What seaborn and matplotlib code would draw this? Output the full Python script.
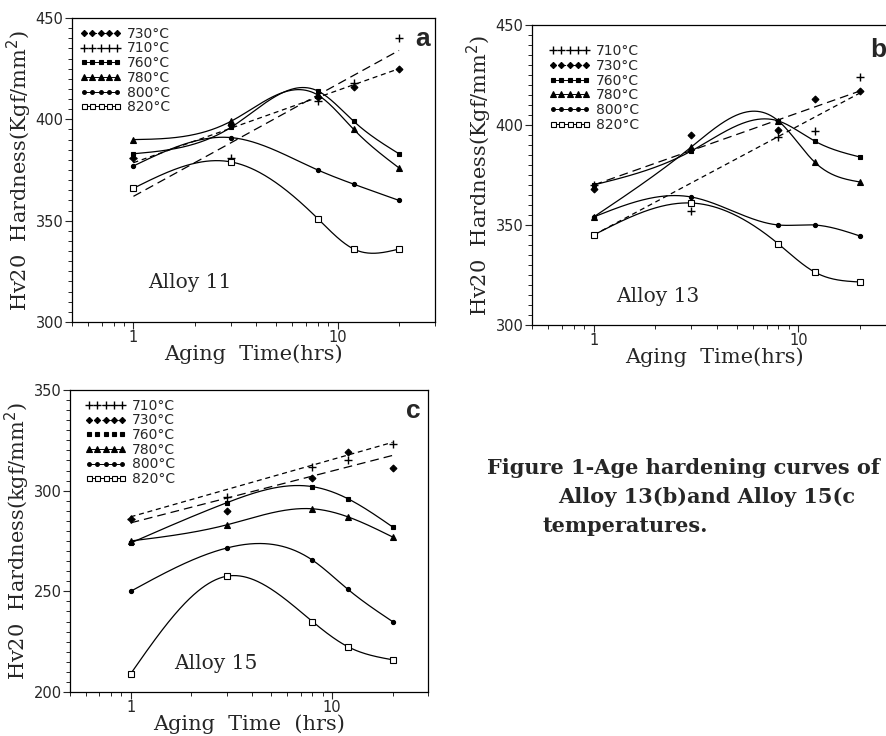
import numpy as np
import pandas as pd
import matplotlib
matplotlib.use("Agg")
import matplotlib.pyplot as plt
import seaborn as sns
from matplotlib.lines import Line2D
from matplotlib.ticker import MultipleLocator, FixedLocator, NullFormatter, FixedFormatter

# ---------------- data ----------------
times = [1, 3, 8, 12, 20]
fit_times = [1, 20]
temps = ["710°C", "730°C", "760°C", "780°C", "800°C", "820°C"]

# Alloy 11 (panel a)
a11_710 = [381, 381, 409, 418, 440]
a11_730 = [381, 397, 411, 416, 425]
a11_760 = [383, 396, 414, 399, 383]
a11_780 = [390, 399, 412, 395, 376]
a11_800 = [377, 391, 375, 368, 360]
a11_820 = [366, 379, 351, 336, 336]
a11_fit710 = [362, 434]
a11_fit730 = [378.6, 425]

# Alloy 13 (panel b)
a13_710 = [370, 357, 394, 397, 424]
a13_730 = [368, 395, 397.5, 413, 417]
a13_760 = [370, 387, 402, 392, 384]
a13_780 = [354, 389, 402, 381.5, 371.5]
a13_800 = [354, 364, 350, 350, 344.5]
a13_820 = [345, 361, 340.5, 326.5, 321.5]
a13_fit710 = [345, 416]
a13_fit730 = [370, 417]

# Alloy 15 (panel c)
a15_710 = [286, 297, 312, 315, 323]
a15_730 = [286, 290, 306.5, 319, 311.5]
a15_760 = [274, 294, 302, 296, 282]
a15_780 = [275, 283, 291, 287, 277]
a15_800 = [250, 271.5, 265.5, 251, 235]
a15_820 = [209, 257.5, 235, 222.5, 216]
a15_fit710 = [287, 324]
a15_fit730 = [284, 317.5]

# ---------------- style ----------------
sns.set_theme(style="ticks")
plt.rcParams["font.family"] = ["DejaVu Sans"]
plt.rcParams["axes.linewidth"] = 0.9
plt.rcParams["xtick.direction"] = "out"
plt.rcParams["ytick.direction"] = "out"

markers = {"710°C": dict(marker="+", ms=6, mfc="black", mew=1.0),
           "730°C": dict(marker="D", ms=3.5, mfc="black", mew=0.8),
           "760°C": dict(marker="s", ms=3, mfc="black", mew=0.8),
           "780°C": dict(marker="^", ms=4.5, mfc="black", mew=0.8),
           "800°C": dict(marker="o", ms=3, mfc="black", mew=0.8),
           "820°C": dict(marker="s", ms=4, mfc="white", mew=0.8)}

SERIF = "DejaVu Serif"


def spline(x, y, n=300):
    """natural cubic spline in log10(x) space, for drawing smooth curves"""
    xs = np.log10(np.asarray(x, float))
    ys = np.asarray(y, float)
    k = len(xs)
    h = np.diff(xs)
    A = np.zeros((k, k)); b = np.zeros(k)
    A[0, 0] = A[-1, -1] = 1
    for i in range(1, k - 1):
        A[i, i - 1] = h[i - 1]; A[i, i] = 2 * (h[i - 1] + h[i]); A[i, i + 1] = h[i]
        b[i] = 6 * ((ys[i + 1] - ys[i]) / h[i] - (ys[i] - ys[i - 1]) / h[i - 1])
    M = np.linalg.solve(A, b)
    xx = np.linspace(xs[0], xs[-1], n)
    j = np.clip(np.searchsorted(xs, xx) - 1, 0, k - 2)
    t0, t1 = xs[j], xs[j + 1]; hh = t1 - t0
    yy = (M[j] * (t1 - xx) ** 3 / (6 * hh) + M[j + 1] * (xx - t0) ** 3 / (6 * hh)
          + (ys[j] / hh - M[j] * hh / 6) * (t1 - xx) + (ys[j + 1] / hh - M[j + 1] * hh / 6) * (xx - t0))
    return 10 ** xx, yy


def panel(ax, series, fits, fit_styles, ylim, letter, letter_xy, alloy, alloy_xy, ylabel, xlabel,
          legend_order, leg_anchor, legend_styles):
    for temp in ["760°C", "780°C", "800°C", "820°C"]:
        sx, sy = spline(times, series[temp])
        sns.lineplot(x=sx, y=sy, ax=ax, color="black", lw=0.9, sort=False,
                     estimator=None, legend=False)
    for temp, vals in fits.items():
        sns.lineplot(x=fit_times, y=vals, ax=ax, color="black", lw=0.9, legend=False,
                     estimator=None, dashes=False, linestyle=fit_styles[temp])
    for temp in temps:
        m = markers[temp]
        ax.plot(times, series[temp], ls="none", marker=m["marker"], ms=m["ms"],
                mfc=m["mfc"], mec="black", mew=m["mew"], color="black", zorder=5)
    ax.set_xscale("log")
    ax.set_xlim(0.5, 30)
    ax.set_ylim(*ylim)
    ax.xaxis.set_major_locator(FixedLocator([1, 10]))
    ax.xaxis.set_major_formatter(FixedFormatter(["1", "10"]))
    ax.xaxis.set_minor_locator(FixedLocator([0.5, 0.6, 0.7, 0.8, 0.9, 2, 3, 4, 5, 6, 7, 8, 9, 20, 30]))
    ax.xaxis.set_minor_formatter(NullFormatter())
    ax.yaxis.set_major_locator(MultipleLocator(50))
    ax.yaxis.set_minor_locator(MultipleLocator(5))
    ax.tick_params(which="major", length=5, width=0.8, labelsize=10.5, pad=1)
    ax.tick_params(axis="x", which="major", pad=0.5)
    ax.tick_params(which="minor", length=3, width=0.7)
    for s in ax.spines.values():
        s.set_color("black")
    ax.set_xlabel(xlabel, family=SERIF, fontsize=15, labelpad=0)
    ax.set_ylabel(ylabel, family=SERIF, fontsize=15, labelpad=1)
    ax.text(letter_xy[0], letter_xy[1], letter, transform=ax.transAxes, ha="center", va="center",
            fontsize=19, fontweight="bold", family="Liberation Sans")
    ax.text(alloy_xy[0], alloy_xy[1], alloy, transform=ax.transAxes, ha="left", va="center",
            family=SERIF, fontsize=14.5)
    handles = []
    for temp in legend_order:
        m = markers[temp]
        handles.append(Line2D([], [], color="black", lw=0.7, ls=legend_styles[temp],
                              marker=m["marker"], ms=m["ms"] * 0.9, mfc=m["mfc"],
                              mec="black", mew=m["mew"]))
    ax.legend(handles, legend_order, loc="upper left", bbox_to_anchor=leg_anchor,
              numpoints=5, handlelength=3.0, handletextpad=0.4, labelspacing=0.05,
              fontsize=10, frameon=False, borderaxespad=0.2, borderpad=0.1)


fig = plt.figure(figsize=(8.87, 7.36), dpi=100)
W, H = 887, 736


def add(x0, y0, x1, y1):
    return fig.add_axes([x0 / W, 1 - y1 / H, (x1 - x0) / W, (y1 - y0) / H])


ylab = "Hv20  Hardness(Kgf/mm$^2$)"
ax_a = add(72, 18, 435, 322)
panel(ax_a,
      {"710°C": a11_710, "730°C": a11_730, "760°C": a11_760, "780°C": a11_780,
       "800°C": a11_800, "820°C": a11_820},
      {"710°C": a11_fit710, "730°C": a11_fit730},
      {"710°C": (0, (7, 4)), "730°C": (0, (4, 3))},
      (300, 450), "a", (0.967, 0.93), "Alloy 11", (0.21, 0.13), ylab, "Aging  Time(hrs)",
      ["730°C", "710°C", "760°C", "780°C", "800°C", "820°C"], (0.01, 0.985),
      {"730°C": (0, (3, 2)), "710°C": ":", "760°C": "-", "780°C": "-", "800°C": "-", "820°C": "-"})

ax_b = add(532, 25, 896, 325)
panel(ax_b,
      {"710°C": a13_710, "730°C": a13_730, "760°C": a13_760, "780°C": a13_780,
       "800°C": a13_800, "820°C": a13_820},
      {"710°C": a13_fit710, "730°C": a13_fit730},
      {"710°C": (0, (4, 3)), "730°C": (0, (7, 4))},
      (300, 450), "b", (0.95, 0.917), "Alloy 13", (0.23, 0.095), ylab, "Aging  Time(hrs)",
      ["710°C", "730°C", "760°C", "780°C", "800°C", "820°C"], (0.035, 0.95),
      {"710°C": ":", "730°C": (0, (3, 2)), "760°C": "-", "780°C": "-", "800°C": "-", "820°C": "-"})

ax_c = add(70, 390, 428, 692)
panel(ax_c,
      {"710°C": a15_710, "730°C": a15_730, "760°C": a15_760, "780°C": a15_780,
       "800°C": a15_800, "820°C": a15_820},
      {"710°C": a15_fit710, "730°C": a15_fit730},
      {"710°C": (0, (4, 3)), "730°C": (0, (7, 4))},
      (200, 350), "c", (0.96, 0.93), "Alloy 15", (0.29, 0.096), "Hv20  Hardness(kgf/mm$^2$)",
      "Aging  Time  (hrs)",
      ["710°C", "730°C", "760°C", "780°C", "800°C", "820°C"], (0.03, 0.985),
      {"710°C": ":", "730°C": ":", "760°C": "none", "780°C": "-", "800°C": "-", "820°C": "-"})

cap_kw = dict(family=SERIF, fontweight="bold", fontsize=15, va="center", ha="left")
fig.text(487 / W, 1 - 468 / H, "Figure 1-Age hardening curves of", **cap_kw)
fig.text(558 / W, 1 - 497 / H, "Alloy 13(b)and Alloy 15(c", **cap_kw)
fig.text(543 / W, 1 - 526 / H, "temperatures.", **cap_kw)

fig.savefig("out.png", dpi=100, facecolor="white")
